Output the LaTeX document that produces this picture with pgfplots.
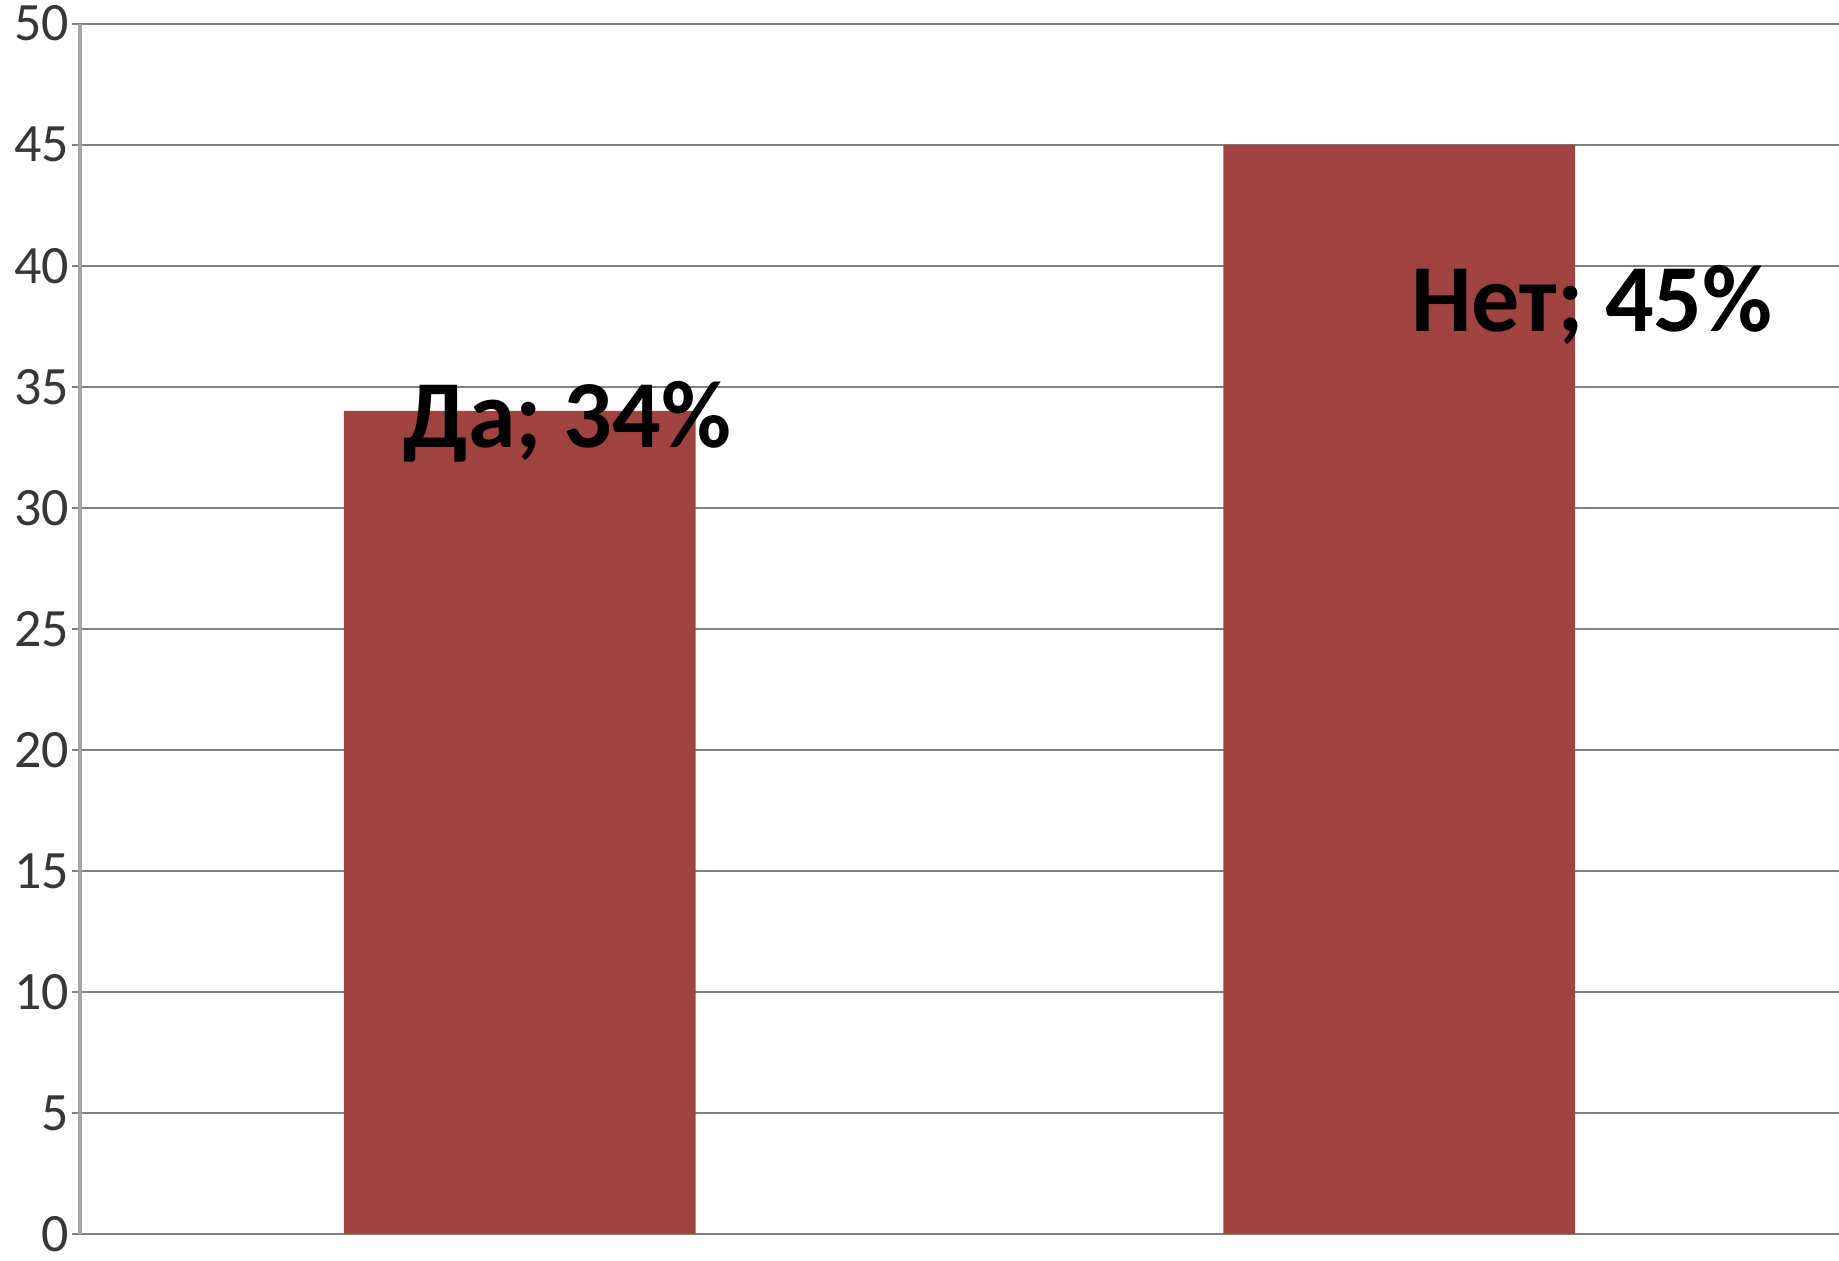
\documentclass[border=0pt]{standalone}
\usepackage{pgfplots}
\pgfplotsset{compat=1.18}
\usepackage{fontspec}
\setmainfont{Carlito}
\definecolor{barred}{RGB}{160,68,66}
\definecolor{gridgray}{RGB}{128,128,128}
\definecolor{axisgray}{RGB}{165,165,165}
\definecolor{ticktext}{RGB}{55,55,55}
\begin{document}
\begin{tikzpicture}
\begin{axis}[
    name=ax,
    scale only axis,
    width=439.75pt, height=302.6pt,
    xmin=-0.5, xmax=1.5,
    ymin=0, ymax=50,
    ytick={0,5,...,50},
    xtick=\empty,
    axis x line*=bottom, axis y line*=left,
    axis line style={-},
    x axis line style={gridgray, line width=0.6pt},
    y axis line style={axisgray, line width=0.8pt},
    ymajorgrids,
    major grid style={gridgray, line width=0.5pt},
    tick align=outside,
    major tick length=2pt,
    ytick style={gridgray, line width=0.5pt},
    tick label style={/pgf/number format/assume math mode=true,
        font=\fontsize{13.5}{16}\selectfont, text=ticktext},
    yticklabel style={inner xsep=0.5pt},
    ybar, bar width=0.4,
]
\addplot[fill=barred, draw=none] coordinates {(0,34) (1,45)};
\node[anchor=base, font=\bfseries\fontsize{24}{28}\selectfont] at (axis cs:0.054,32.47) {Да; 34\%};
\node[anchor=base, font=\bfseries\fontsize{24}{28}\selectfont] at (axis cs:1.219,37.3) {Нет; 45\%};
\end{axis}
\pgfresetboundingbox
\path[use as bounding box] ([xshift=-20pt,yshift=-6.75pt]ax.south west) rectangle ([yshift=5.9pt]ax.north east);
\end{tikzpicture}
\end{document}
